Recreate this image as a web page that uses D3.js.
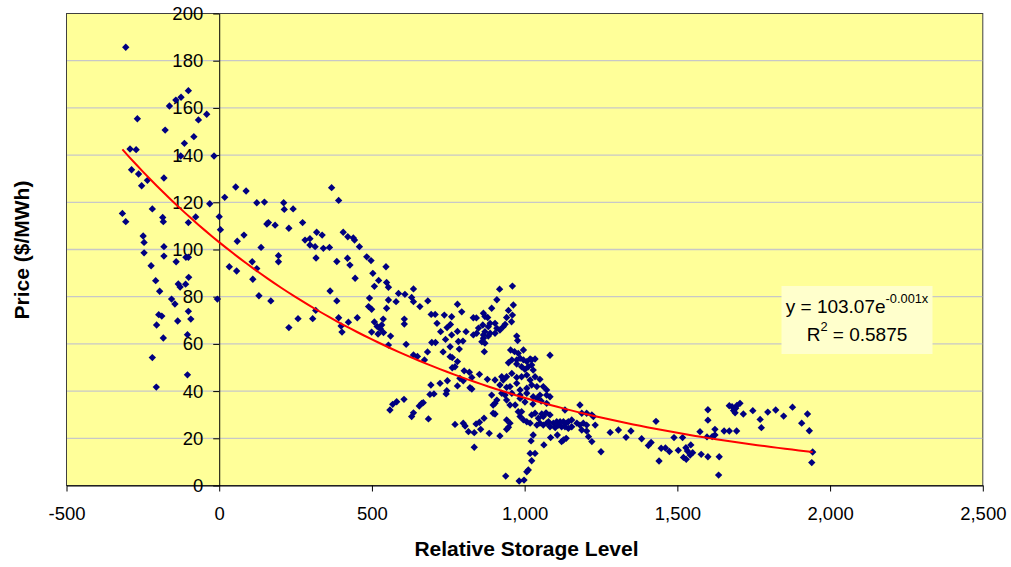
<!DOCTYPE html>
<html>
<head>
<meta charset="utf-8">
<script src="https://cdn.jsdelivr.net/npm/d3@7"></script>
<style>
  body { margin: 0; background: #fff; }
  #chart text { font-family: 'Liberation Sans', Arial, sans-serif; fill: #000; }
</style>
</head>
<body>
<div id="chart"></div>
<script>
'use strict';

// relative storage level (x) and price in $/MWh (y)
var storage = [
  -306,-268,-317,-306,-292,-272,-287,-264,-254,-235,-219,-249,-246,-246,-181,-185,-183,-181,-177,-163,
  -142,-125,-101,-68,-41,-83,-114,-126,-101,-77,-31,-17,0,4,-223,-208,-195,-181,-141,-134,
  -128,-110,-109,-101,-100,-156,-145,-205,-198,-188,-183,-136,-101,-93,-104,-219,-206,-104,-6,18,
  54,88,59,81,123,148,137,156,161,183,211,213,242,228,273,281,297,297,314,319,
  337,341,361,368,391,33,57,108,110,123,130,169,194,194,228,258,306,316,317,363,
  385,385,391,399,402,406,421,439,443,459,483,497,420,428,546,503,522,548,554,508,
  445,492,489,499,554,548,579,587,423,452,537,508,517,528,499,538,520,561,532,608,
  636,630,636,657,683,606,606,554,612,636,649,672,682,694,707,713,737,761,757,746,
  725,741,761,780,794,780,808,783,798,696,708,756,733,786,832,842,832,849,865,870,
  879,892,909,918,960,963,947,941,960,957,843,865,870,863,881,887,903,909,919,930,
  936,860,865,870,881,887,903,868,974,977,954,967,979,996,1083,1018,1034,974,958,788,
  799,747,723,693,703,690,745,743,780,802,819,827,821,827,772,763,780,756,763,568,
  581,605,559,636,630,655,663,668,685,947,974,985,996,1007,1023,990,1001,1012,1023,1028,
  958,941,974,990,1007,1034,1050,1018,852,878,903,925,930,919,941,952,974,985,1007,1023,
  1040,1061,1072,925,936,958,985,1007,1028,1050,1072,1083,909,941,985,1040,892,903,897,952,
  969,1072,1181,867,897,772,799,805,816,835,841,852,856,884,919,835,903,1001,1027,1054,
  941,952,947,941,985,996,1007,1018,979,990,1023,1034,1045,1056,1061,1070,1083,1078,1050,1061,
  1072,1094,1105,1116,1127,1136,1143,1154,1171,1181,1192,1203,1083,1100,1110,1121,1132,1143,1154,1040,
  1028,1021,1063,1085,1107,1127,1136,1121,1203,1209,1220,1231,1018,1034,1023,1012,1007,938,982,998,
  1132,1187,1203,1220,1225,1187,1250,1280,1307,1332,1348,1383,1405,1414,1430,1440,1447,1461,1474,1489,
  1517,1503,1528,1533,1544,1520,1529,1542,1550,1574,1578,1600,1600,1600,1597,1614,1623,1623,1637,1635,
  1653,1670,1694,1670,1679,1684,1691,1695,1705,1689,1716,1747,1771,1775,1796,1822,1848,1877,1907,1926,
  1932,1943,1940
];
var price = [
  185.7,155.4,115.3,111.8,142.6,142.3,133.8,132.0,127.0,129.3,117.2,105.7,103.0,98.6,130.3,113.6,111.8,101.2,150.6,160.8,
  163.3,164.5,167.3,154.9,157.3,147.8,145.0,139.6,111.4,113.8,119.4,139.6,113.9,108.4,93.1,86.8,82.3,97.2,94.8,85.4,
  84.1,85.3,96.7,96.7,88.2,79.0,76.9,68.0,72.4,71.8,62.5,69.7,73.8,70.5,63.9,54.2,41.7,46.9,79.0,122.1,
  126.5,124.8,103.5,106.1,119.8,120.1,100.9,110.8,111.4,110.3,119.8,117.0,117.2,109.0,111.4,104.0,104.6,101.9,101.2,107.3,
  106.1,100.5,100.9,126.2,120.8,92.7,90.9,94.8,87.4,91.9,80.4,78.2,97.4,94.8,66.9,70.7,70.7,74.2,96.4,82.4,
  94.9,78.2,71.1,67.6,65.0,107.3,105.4,104.9,104.0,101.2,96.9,95.3,96.3,93.4,92.7,89.9,86.9,86.0,84.0,84.4,
  87.8,79.4,75.8,74.7,78.6,75.1,77.9,81.4,69.2,71.1,70.5,69.3,67.4,66.3,65.0,64.8,64.2,63.3,68.0,81.0,
  83.3,79.7,77.9,75.8,78.2,70.5,68.4,59.5,59.8,55.3,54.7,53.2,56.6,72.5,72.5,68.7,72.2,71.5,68.2,66.9,
  65.2,61.9,63.8,76.8,73.6,65.3,65.2,61.0,61.2,60.6,60.6,58.8,56.6,57.8,71.1,71.0,63.8,66.7,73.0,71.6,
  71.2,75.1,78.7,83.2,84.5,76.5,74.2,71.2,72.2,69.4,64.5,63.8,65.2,68.0,67.3,68.7,68.7,66.6,65.9,67.3,
  68.3,60.9,62.4,60.3,63.3,64.5,64.5,56.7,63.3,61.4,57.4,56.7,56.0,57.4,55.2,53.6,53.6,51.5,53.2,45.4,
  44.4,44.4,43.3,42.6,38.8,38.6,40.2,38.8,42.2,48.6,48.0,45.8,41.4,40.9,50.3,49.9,52.5,54.6,54.2,34.4,
  35.5,36.5,32.0,30.8,29.2,33.7,34.8,35.1,28.2,52.0,53.2,53.9,53.2,52.5,53.2,50.3,49.2,50.3,51.1,48.9,
  47.5,46.1,45.8,46.1,46.8,46.1,45.0,44.7,47.1,45.0,44.7,46.1,44.7,42.6,41.6,41.9,43.3,40.5,41.2,42.6,
  41.9,41.9,40.5,39.1,38.3,39.1,38.3,39.1,37.6,38.3,38.3,37.6,36.2,36.2,36.9,36.9,38.3,34.8,34.1,34.1,
  34.1,34.8,34.1,28.5,30.6,25.9,26.4,25.2,22.8,22.4,26.1,26.8,23.8,22.1,21.0,16.2,30.3,35.4,34.5,35.8,
  27.8,26.4,24.7,23.8,29.2,27.8,27.0,26.4,31.3,31.3,29.9,30.6,28.5,30.3,29.2,30.8,29.9,27.0,26.4,25.6,
  26.4,26.4,27.0,27.0,27.0,26.4,27.0,27.8,26.4,25.6,26.4,25.6,24.9,24.5,25.6,24.9,24.9,24.2,24.9,25.6,
  21.4,18.9,17.2,20.3,21.4,19.3,20.0,18.6,23.1,20.7,18.6,25.6,13.6,13.6,10.5,6.6,5.8,4.0,1.9,2.3,
  32.0,30.6,30.6,29.9,29.2,23.5,14.3,22.5,23.5,20.4,23.1,19.8,16.9,18.2,27.2,10.4,15.8,15.9,14.4,20.3,
  20.3,14.9,16.0,14.6,17.2,11.9,11.1,12.9,13.9,22.8,13.2,12.2,32.1,27.7,20.6,20.7,23.8,21.4,12.2,4.4,
  23.1,23.1,23.1,33.8,33.4,31.8,32.7,33.9,34.8,30.8,30.3,31.7,28.0,24.5,31.1,32.0,29.4,33.2,26.4,30.3,
  23.2,14.2,9.7
];

var xTicks = [-500, 0, 500, 1000, 1500, 2000, 2500];
var xTickLabels = ['-500', '0', '500', '1,000', '1,500', '2,000', '2,500'];
var yTicks = [0, 20, 40, 60, 80, 100, 120, 140, 160, 180, 200];

// exponential trendline y = a * e^(b x)
var trendA = 103.07, trendB = -0.00102;
var eqText = 'y = 103.07e', eqExp = '-0.001x', r2Text = '0.5875';

var w = 1011, h = 567,
    padl = 66.5, padr = 982.8, padt = 13.5, padb = 485.5,
    fontSize = 18.5;

var x = d3.scaleLinear().domain([-500, 2500]).range([padl, padr]),
    y = d3.scaleLinear().domain([0, 200]).range([padb, padt]);

var svg = d3.select('#chart')
  .append('svg')
  .attr('width', w)
  .attr('height', h);

svg.append('rect')
  .attr('width', w)
  .attr('height', h)
  .attr('fill', '#fff');

// plot area
svg.append('rect')
  .attr('x', padl)
  .attr('y', padt)
  .attr('width', padr - padl)
  .attr('height', padb - padt)
  .attr('fill', '#ffff99')
  .attr('stroke', '#404040')
  .attr('stroke-width', 1);

// gridlines
svg.append('g')
  .selectAll('line')
  .data(yTicks.filter((d) => d > 0 && d < 200))
  .enter().append('line')
  .attr('x1', padl + 0.5)
  .attr('x2', padr - 0.5)
  .attr('y1', (d) => y(d))
  .attr('y2', (d) => y(d))
  .attr('stroke', '#c8c8c8')
  .attr('stroke-width', 1.3);

// axes
var yAxis = d3.axisLeft(y).tickValues(yTicks).tickSize(6).tickSizeOuter(0).tickPadding(10),
    xAxis = d3.axisBottom(x).tickValues(xTicks).tickSize(6).tickSizeOuter(0).tickPadding(15)
      .tickFormat((d, i) => xTickLabels[i]);

var gy = svg.append('g')
  .attr('transform', 'translate(' + x(0) + ',0)')
  .call(yAxis);

var gx = svg.append('g')
  .attr('transform', 'translate(0,' + padb + ')')
  .call(xAxis);

[gx, gy].forEach(function (g) {
  g.attr('font-size', fontSize).attr('font-family', null);
  g.selectAll('path, line').attr('stroke', '#000');
});

// points
var pts = storage.map((d, i) => ({ x: d, y: price[i] }));
var diamond = d3.symbol().type(d3.symbolSquare).size(27);

svg.append('g')
  .selectAll('path')
  .data(pts)
  .enter().append('path')
  .attr('d', diamond)
  .attr('transform', (d) => 'translate(' + x(d.x) + ',' + y(d.y) + ') rotate(45)')
  .attr('fill', '#000080');

// trendline over the x extent of the data
var ext = d3.extent(storage);
var trend = d3.range(0, 101).map(function (i) {
  var v = ext[0] + (ext[1] - ext[0]) * i / 100;
  return [v, trendA * Math.exp(trendB * v)];
});

svg.append('path')
  .datum(trend)
  .attr('d', d3.line().x((d) => x(d[0])).y((d) => y(d[1])))
  .attr('fill', 'none')
  .attr('stroke', '#ff0000')
  .attr('stroke-width', 2);

// equation label
var eq = svg.append('g');
eq.append('rect')
  .attr('x', 781.5)
  .attr('y', 286)
  .attr('width', 151)
  .attr('height', 68)
  .attr('fill', '#ffffcc');

var l1 = eq.append('text')
  .attr('x', 857)
  .attr('y', 313)
  .attr('text-anchor', 'middle')
  .attr('font-size', fontSize + 0.5);
l1.append('tspan').text(eqText);
l1.append('tspan').attr('dy', -10).attr('font-size', 12.8).text(eqExp);

var l2 = eq.append('text')
  .attr('x', 857)
  .attr('y', 341)
  .attr('text-anchor', 'middle')
  .attr('font-size', fontSize + 0.5);
l2.append('tspan').text('R');
l2.append('tspan').attr('dy', -10).attr('font-size', 12.8).text('2');
l2.append('tspan').attr('dy', 10).text(' = ' + r2Text);

// axis titles
svg.append('text')
  .attr('x', 526.5)
  .attr('y', 556)
  .attr('text-anchor', 'middle')
  .attr('font-size', 21)
  .attr('font-weight', 'bold')
  .text('Relative Storage Level');

svg.append('text')
  .attr('transform', 'translate(29,250) rotate(-90)')
  .attr('text-anchor', 'middle')
  .attr('font-size', 21)
  .attr('font-weight', 'bold')
  .text('Price ($/MWh)');
</script>
</body>
</html>
